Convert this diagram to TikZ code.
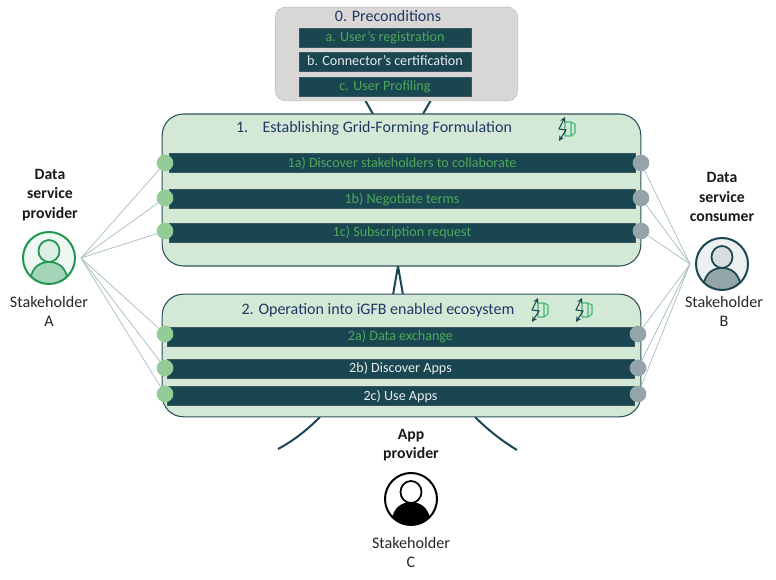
\documentclass[tikz,border=0pt]{standalone}
\usepackage{fontspec}
\setmainfont{Carlito}
\definecolor{teal}{HTML}{1A4652}
\definecolor{mint}{HTML}{D4E9D5}
\definecolor{navy}{HTML}{1F3864}
\definecolor{lgreen}{HTML}{4EA85A}
\definecolor{dotg}{HTML}{94CC98}
\definecolor{dotb}{HTML}{93A5A9}
\definecolor{greybox}{HTML}{D9D6D6}
\definecolor{wire}{HTML}{A9BFC2}
\definecolor{avgreen}{HTML}{1E9650}
\tikzset{
  x=0.75pt,y=-0.75pt,
  bar/.style={fill=teal,draw=teal!70!gray,line width=0.4pt,minimum height=14.5pt,inner sep=0pt,anchor=center,text height=8pt,text depth=1.5pt,font=\fontsize{10.6pt}{12pt}\selectfont},
  gtext/.style={text=lgreen},
  wtext/.style={text=white!90!teal},
  panel/.style={fill=mint,draw=teal!80!gray,line width=0.8pt,rounded corners=16pt},
  ldot/.style={circle,fill=dotg,minimum size=12.5pt,inner sep=0pt},
  rdot/.style={circle,fill=dotb,minimum size=12.5pt,inner sep=0pt},
  wirel/.style={draw=wire,line width=0.55pt},
  thick link/.style={draw=teal,line width=1.5pt},
  title/.style={text=navy,font=\fontsize{12pt}{14pt}\selectfont},
  who/.style={font=\fontsize{12.1pt}{14.2pt}\selectfont,align=center,text=black!85},
  role/.style={font=\fontsize{11.8pt}{14.4pt}\selectfont\bfseries,align=center,text=black!90},
  pics/gridicon/.style={code={
    \draw[draw=lgreen!85!cyan,line width=0.8pt,line join=round] (-1,-7) -- (5,-7) -- (9,-5) -- (9,4) -- (5,7) -- (-1,7) -- cycle (5,-7) -- (5,7);
    \draw[draw=teal,line width=0.8pt,<->,>=stealth] (-1,-12) -- (-7,0) -- (0,1) -- (-7,12);
  }},
}
\newcommand{\avatar}[6]{% x,y,ring,bg,head,body
  \begin{scope}[shift={(#1,#2)}]
    \fill[#4] (0,0) circle (26);
    \begin{scope}
      \clip (0,0) circle (25.5);
      \filldraw[draw=#3,fill=#6,line width=1.3pt] (-19,23) .. controls (-17,8) and (-8,4) .. (0,4) .. controls (8,4) and (17,8) .. (19,23) -- (19,30) -- (-19,30) -- cycle;
    \end{scope}
    \filldraw[draw=#3,fill=#5,line width=1.3pt] (0,-7) ellipse (10.5 and 11);
    \draw[draw=#3,line width=1.5pt] (0,0) circle (26);
  \end{scope}}
\begin{document}
\begin{tikzpicture}
\useasboundingbox[fill=white] (0,0) rectangle (776,580);

% links behind the panels
\coordinate (pa) at (365,100); \coordinate (pb) at (431,100);
\coordinate (ua) at (373,114); \coordinate (ub) at (423,114);
\draw[thick link] (pa) -- (ua);
\draw[thick link] (pb) -- (ub);
\coordinate (apex) at (398,266); \coordinate (fa) at (393,295); \coordinate (fb) at (403,295);
\draw[thick link] (fa) -- (apex) -- (fb);
\coordinate (ca) at (320,417); \coordinate (cb) at (278,449);
\coordinate (cc) at (475,417); \coordinate (cd) at (517,450);
\draw[thick link] (ca) .. controls (306,431) and (293,441) .. (cb);
\draw[thick link] (cc) .. controls (488,430) and (502,441) .. (cd);

% panel 0
\node[draw=gray!90,densely dotted,fill=greybox,rounded corners=8pt,minimum width=182pt,minimum height=70.5pt,inner sep=0pt,line width=0.5pt] (p0) at (396.5,54) {};
\node[title] (t0) at (388,16) {0. Preconditions};
\node[bar,gtext,minimum width=129pt] (a) at (385,37.5) {a. User’s registration};
\node[bar,wtext,minimum width=129pt] (b) at (385,61.5) {b. Connector’s certification};
\node[bar,gtext,minimum width=129pt] (c) at (385,86.5) {c. User Profiling};

% panel 1
\node[panel,minimum width=359pt,minimum height=114pt,inner sep=0pt] (p1) at (401.5,190) {};
\node[title] (t1) at (374,128) {1.\hspace{0.9em}Establishing Grid-Forming Formulation};
\node[bar,gtext,minimum width=349.5pt] (b1a) at (402,163) {1a) Discover stakeholders to collaborate};
\node[bar,gtext,minimum width=349.5pt] (b1b) at (402,199) {1b) Negotiate terms};
\node[bar,gtext,minimum width=349.5pt] (b1c) at (402,232.5) {1c) Subscription request};
\pic at (566,129) {gridicon};

% panel 2
\node[panel,minimum width=359pt,minimum height=92pt,inner sep=0pt] (p2) at (401.5,355.5) {};
\node[title] (t2) at (378,310) {2. Operation into iGFB enabled ecosystem};
\node[bar,gtext,minimum width=350pt] (b2a) at (400.5,336.5) {2a) Data exchange};
\node[bar,wtext,minimum width=350pt] (b2b) at (400.5,368.5) {2b) Discover Apps};
\node[bar,wtext,minimum width=350pt] (b2c) at (400.5,396) {2c) Use Apps};
\pic at (539,310) {gridicon};
\pic at (583,310) {gridicon};

% stakeholder hubs
\coordinate (hubA) at (81,258);
\coordinate (hubB) at (690,264);

% dots
\node[ldot] (l1) at (165,163) {};
\node[ldot] (l2) at (165,198) {};
\node[ldot] (l3) at (165,231) {};
\node[ldot] (l4) at (165,334) {};
\node[ldot] (l5) at (165,368) {};
\node[ldot] (l6) at (165,394) {};
\node[rdot] (r1) at (641,163) {};
\node[rdot] (r2) at (641,198) {};
\node[rdot] (r3) at (641,231) {};
\node[rdot] (r4) at (638,334) {};
\node[rdot] (r5) at (638,368) {};
\node[rdot] (r6) at (638,394) {};

% wires
\foreach \n in {l1,l2,l3,l4,l5,l6} \draw[wirel] (hubA) -- (\n);
\foreach \n in {r1,r2,r3,r4,r5,r6} \draw[wirel] (hubB) -- (\n);

% stakeholders
\avatar{49}{258}{avgreen}{avgreen!7}{avgreen!15}{avgreen!40}
\avatar{722}{264}{teal}{teal!8}{teal!18}{dotb}
\avatar{411}{499}{black}{white}{white}{black}

\node[role] (rA) at (50,195) {Data\\service\\provider};
\node[role] (rB) at (722,197) {Data\\service\\consumer};
\node[role] (rC) at (411,445) {App\\provider};
\node[who] (wA) at (49,311) {Stakeholder\\A};
\node[who] (wB) at (724,311) {Stakeholder\\B};
\node[who] (wC) at (411,552.5) {Stakeholder\\C};
\end{tikzpicture}
\end{document}
